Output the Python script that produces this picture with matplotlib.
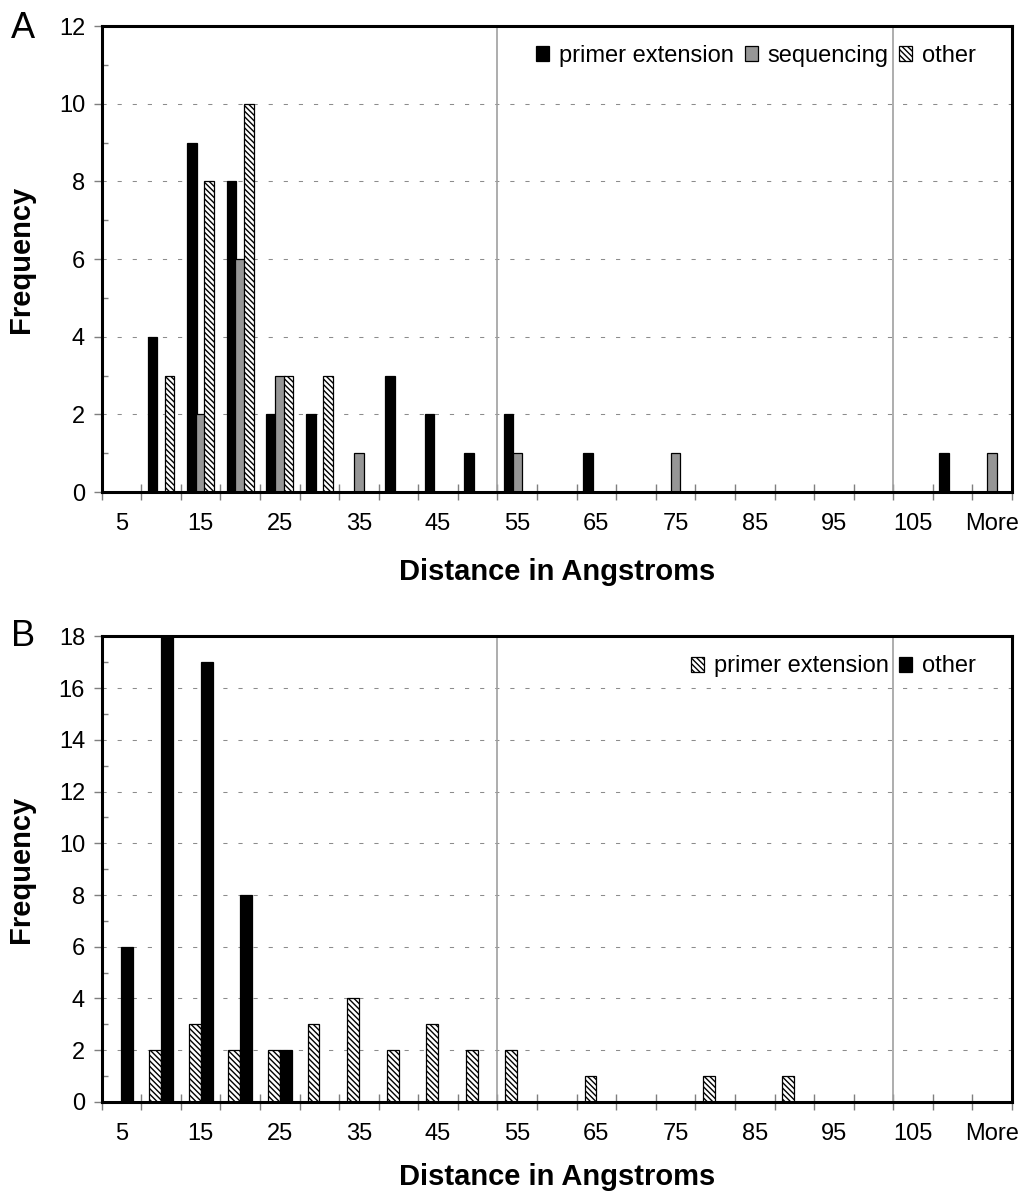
import numpy as np
import matplotlib as mpl
mpl.use('Agg')
import matplotlib.pyplot as plt
from matplotlib.ticker import FixedLocator, MultipleLocator

plt.rcParams['font.family'] = ['Liberation Sans', 'DejaVu Sans']
plt.rcParams['hatch.linewidth'] = 1.0

# histogram bins (Angstroms)
bins = ['5', '10', '15', '20', '25', '30', '35', '40', '45', '50', '55', '60',
        '65', '70', '75', '80', '85', '90', '95', '100', '105', '110', 'More']

# panel A
a_primer = [0, 4, 9, 8, 2, 2, 0, 3, 2, 1, 2, 0, 1, 0, 0, 0, 0, 0, 0, 0, 0, 1, 0]
a_seq    = [0, 0, 2, 6, 3, 0, 1, 0, 0, 0, 1, 0, 0, 0, 1, 0, 0, 0, 0, 0, 0, 0, 1]
a_other  = [0, 3, 8, 10, 3, 3, 0, 0, 0, 0, 0, 0, 0, 0, 0, 0, 0, 0, 0, 0, 0, 0, 0]

# panel B
b_primer = [0, 2, 3, 2, 2, 3, 4, 2, 3, 2, 2, 0, 1, 0, 0, 1, 0, 1, 0, 0, 0, 0, 0]
b_other  = [6, 18, 17, 8, 2, 0, 0, 0, 0, 0, 0, 0, 0, 0, 0, 0, 0, 0, 0, 0, 0, 0, 0]

GRAY = '#969696'
HATCH = '\\\\\\\\\\\\'
TICKC = '#7f7f7f'


def style_axis(ax, ymax, xpad):
    x = np.arange(len(bins))
    ax.set_xlim(-0.5, len(bins) - 0.5)
    ax.set_ylim(0, ymax)
    # labels on every other bin, tick marks at bin edges
    ax.xaxis.set_major_locator(FixedLocator(x[::2]))
    ax.set_xticklabels(bins[::2])
    ax.xaxis.set_minor_locator(FixedLocator(np.arange(len(bins) + 1) - 0.5))
    ax.tick_params(axis='x', which='major', length=0, pad=15, labelsize=17)
    ax.tick_params(axis='x', which='minor', direction='inout', length=11,
                   width=1, color=TICKC)
    ax.yaxis.set_major_locator(MultipleLocator(2))
    ax.yaxis.set_minor_locator(MultipleLocator(1))
    ax.tick_params(axis='y', which='major', direction='out', length=6,
                   width=1, color=TICKC, pad=6, labelsize=17)
    ax.tick_params(axis='y', which='minor', direction='in', length=4,
                   width=1, color=TICKC)
    ax.grid(True, axis='y', which='major', color='#8c8c8c', linewidth=0.75,
            linestyle=(0, (4, 10.5)))
    ax.set_axisbelow(True)
    for s in ax.spines.values():
        s.set_linewidth(2.2)
    for xv in (9.5, 19.5):
        ax.axvline(xv, color='#a0a0a0', linewidth=1.2, zorder=1)
    ax.set_xlabel('Distance in Angstroms', fontsize=21, fontweight='bold',
                  labelpad=xpad)
    ax.set_ylabel('Frequency', fontsize=21, fontweight='bold')
    ax.yaxis.set_label_coords(-0.073, 0.5)


fig = plt.figure(figsize=(10.21, 11.94), dpi=100)
axA = fig.add_axes([0.0996, 0.5879, 0.8916, 0.3903])
axB = fig.add_axes([0.0996, 0.0771, 0.8916, 0.3899])

x = np.arange(len(bins))
w = 0.24
off = 0.217
axA.bar(x - off, a_primer, w, color='black', edgecolor='black', linewidth=0.9,
        label='primer extension', zorder=2)
axA.bar(x, a_seq, w, color=GRAY, edgecolor='black', linewidth=0.9,
        label='sequencing', zorder=2)
axA.bar(x + off, a_other, w, color='white', edgecolor='black', linewidth=0.9,
        hatch=HATCH, label='other', zorder=2)
style_axis(axA, 12, 17)

wb = 0.30
axB.bar(x - 0.15, b_primer, wb, color='white', edgecolor='black', linewidth=0.9,
        hatch=HATCH, label='primer extension', zorder=2)
axB.bar(x + 0.15, b_other, wb, color='black', edgecolor='black', linewidth=0.9,
        label='other', zorder=2)
style_axis(axB, 18, 13)

for ax in (axA, axB):
    ax.legend(loc='center right', bbox_to_anchor=(0.9605, 0.9356), ncol=3,
              frameon=False, fontsize=17, handlelength=0.55, handleheight=0.6,
              handletextpad=0.42, columnspacing=0.45, borderpad=0,
              borderaxespad=0)

fig.text(0.011, 1 - 28 / 1194, 'A', fontsize=26, va='center', ha='left')
fig.text(0.011, 1 - 637 / 1194, 'B', fontsize=26, va='center', ha='left')

fig.savefig('out.png', dpi=100)
